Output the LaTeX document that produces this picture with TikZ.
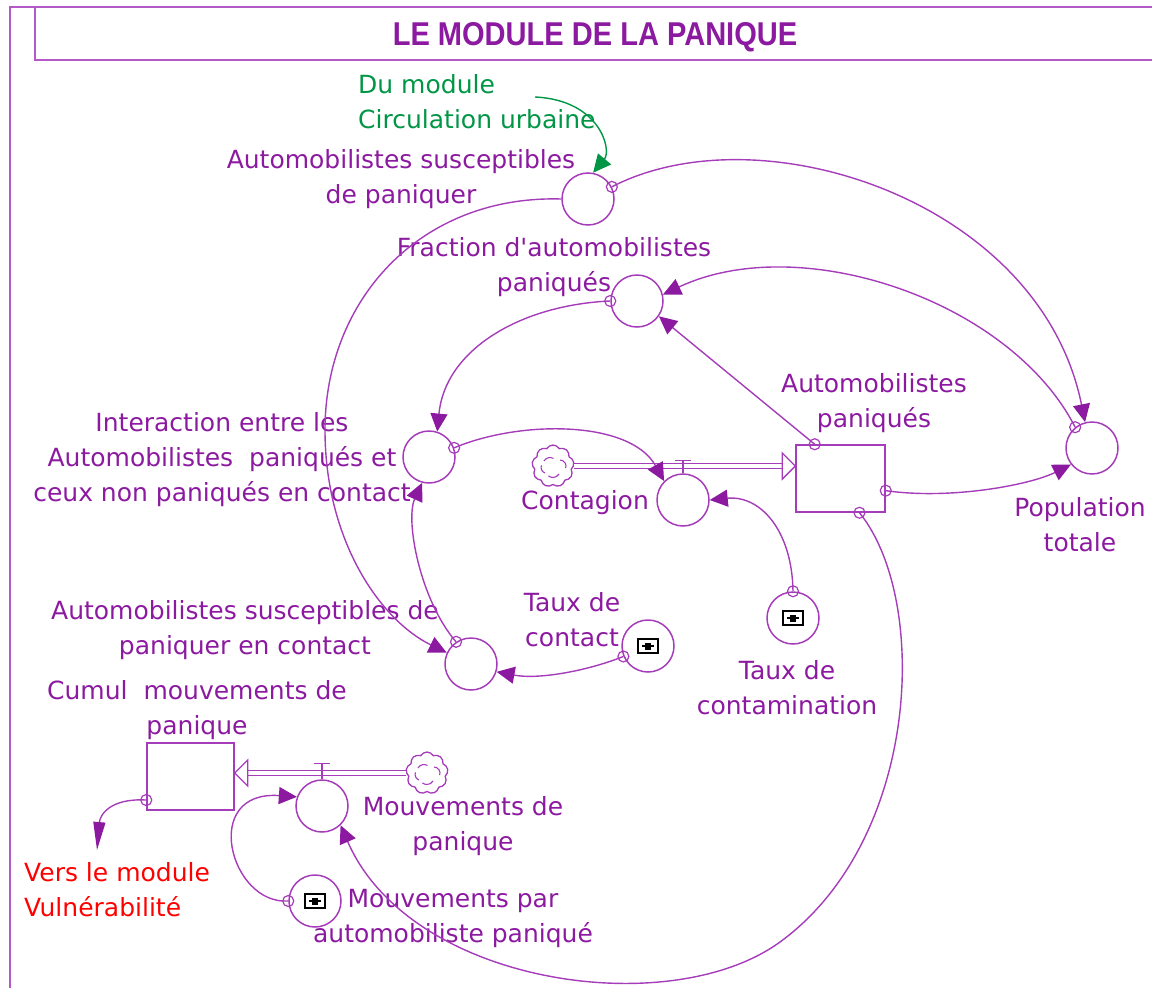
\documentclass[tikz,border=0pt]{standalone}
\usepackage{fontspec}
\usepackage{graphicx}
\setmainfont{DejaVu Sans}
\newfontfamily\labfont{DejaVu Sans}
\newfontfamily\titlefont{Liberation Sans}
\usetikzlibrary{arrows.meta,shapes.symbols,calc}
\definecolor{tpurple}{RGB}{140,26,160}
\definecolor{lpurple}{RGB}{165,60,185}
\definecolor{fpurple}{RGB}{180,90,200}
\definecolor{dgreen}{RGB}{0,150,70}
\tikzset{
  aux/.style={circle,draw=lpurple,line width=1.5pt,minimum size=52pt,inner sep=0pt},
  stock/.style={rectangle,draw=lpurple,line width=1.5pt,inner sep=0pt},
  lbl/.style={text=tpurple,font=\labfont\fontsize{25}{35}\selectfont,align=center,inner sep=0pt},
  link/.style={draw=lpurple,line width=1.4pt,-{Triangle[length=18pt,width=17pt,color=tpurple]}},
  glink/.style={draw=dgreen,line width=1.4pt,-{Triangle[length=18pt,width=17pt,color=dgreen]}},
  origin/.style={draw=lpurple,line width=1.2pt},
  pipe/.style={draw=lpurple,line width=1.4pt},
  cloudsh/.style={cloud,cloud puffs=9,cloud puff arc=120,aspect=1,draw=lpurple,line width=1.3pt,minimum width=42pt,minimum height=42pt,inner sep=0pt},
  convicon/.pic={
    \draw[black,line width=1.6pt,fill=white] (-10,-7) rectangle (10,7);
    \draw[black,line width=1.5pt] (-6,0) -- (6,0);
    \fill[black] (-3,-3.5) rectangle (3,3.5);
  },
  swirl/.pic={
    \draw[lpurple,line width=1.1pt] (-9,5) arc[start angle=150,end angle=60,radius=7];
    \draw[lpurple,line width=1.1pt] (7,6) arc[start angle=90,end angle=-20,radius=6];
    \draw[lpurple,line width=1.1pt] (6,-8) arc[start angle=-30,end angle=-130,radius=7];
    \draw[lpurple,line width=1.1pt] (-8,-7) arc[start angle=-110,end angle=-200,radius=6];
  }
}
\begin{document}
\begin{tikzpicture}[x=1pt,y=1pt]
\useasboundingbox (0,0) rectangle (1152,-988);
% frame
\draw[fpurple,line width=1.5pt] (10,-988) -- (10,-7) -- (1152,-7);
\draw[fpurple,line width=1.5pt] (1152,-60) -- (35,-60) -- (35,-7);
\node[text=tpurple,inner sep=0pt] (title) at (595,-37) {\titlefont\bfseries\fontsize{33}{33}\selectfont\scalebox{0.88}[1]{LE MODULE DE LA PANIQUE}};

% variables
\node[aux] (A) at (588,-199) {};
\node[aux] (F) at (637,-301) {};
\node[aux] (I) at (429,-457) {};
\node[aux] (C) at (683,-500) {};
\node[stock,minimum width=89pt,minimum height=67pt] (P) at (840.5,-478.5) {};
\node[aux] (T) at (1092,-448) {};
\node[aux] (TC) at (793,-618) {};
\node[aux] (TK) at (648,-646) {};
\node[aux] (S) at (471,-664) {};
\node[stock,minimum width=87pt,minimum height=67pt] (K) at (190.5,-776.5) {};
\node[aux] (M) at (322,-806) {};
\node[aux] (MP) at (315,-901) {};
\node[cloudsh] (CL1) at (553,-466) {};
\node[cloudsh] (CL2) at (427,-773) {};
\pic at (CL1.center) {swirl};
\pic at (CL2.center) {swirl};
\pic at (TC.center) {convicon};
\pic at (TK.center) {convicon};
\pic at (MP.center) {convicon};

% labels
\node[lbl] (lA) at (401,-179) {Automobilistes susceptibles\\de paniquer};
\node[lbl] (lF) at (554,-267) {Fraction d'automobilistes\\paniqués};
\node[lbl] (lI) at (222,-460) {Interaction entre les\\Automobilistes\ \ paniqués et\\ceux non paniqués en contact};
\node[lbl] (lP) at (874,-403) {Automobilistes\\paniqués};
\node[lbl] (lC) at (585,-503) {Contagion};
\node[lbl] (lT) at (1080,-525) {Population\\totale};
\node[lbl] (lTC) at (787,-688) {Taux de\\contamination};
\node[lbl] (lTK) at (572,-620) {Taux de\\contact};
\node[lbl] (lS) at (245,-630) {Automobilistes susceptibles de\\paniquer en contact};
\node[lbl] (lK) at (197,-710) {Cumul\ \ mouvements de\\panique};
\node[lbl] (lM) at (463,-826) {Mouvements de\\panique};
\node[lbl] (lMP) at (453,-918) {Mouvements par\\automobiliste paniqué};
\node[lbl,text=dgreen,align=left,anchor=west] (lG) at (358,-102) {Du module\\Circulation urbaine};
\node[lbl,text=red,align=left,anchor=west] (lR) at (24,-890) {Vers le module\\Vulnérabilité};

% flows
\coordinate (P1) at (P.west |- CL1.east);
\draw[pipe,double=white,double distance=4pt] (CL1.east) -- ($(P1)+(-12,0)$);
\draw[pipe,fill=white] (P1) -- ++(-13,13) -- ++(0,-26) -- cycle;
\draw[pipe] (C.north) -- ++(0,13) ++(-8,0) -- ++(16,0);
\coordinate (K1) at (K.east |- CL2.west);
\draw[pipe,double=white,double distance=4pt] (CL2.west) -- ($(K1)+(12,0)$);
\draw[pipe,fill=white] (K1) -- ++(13,13) -- ++(0,-26) -- cycle;
\draw[pipe] (M.north) -- ++(0,16) ++(-8,0) -- ++(16,0);

% connectors
\draw[link] (A.27) .. controls (760,-110) and (1040,-200) .. (T.105);
\draw[link] (T.129) .. controls (1010,-300) and (800,-230) .. (F.14);
\draw[link] (P.127) -- (F.-35);
\draw[link] (F.180) .. controls (520,-305) and (445,-350) .. (I.72);
\draw[link] (I.20) .. controls (520,-420) and (630,-420) .. (C.135);
\draw[link] (TC.90) .. controls (792,-530) and (760,-495) .. (C.0);
\draw[link] (TK.203) .. controls (590,-670) and (540,-680) .. (S.-17);
\draw[link] (S.124) .. controls (420,-600) and (405,-520) .. (I.-105);
\draw[link] (A.180) .. controls (420,-195) and (325,-300) .. (325,-430) .. controls (325,-540) and (380,-620) .. (S.155);
\draw[link] (P.-61) .. controls (930,-600) and (920,-840) .. (780,-942) .. controls (670,-1022) and (410,-985) .. (M.-46);
\draw[link] (P.-15) .. controls (950,-500) and (1030,-485) .. (T.218);
\draw[link] (MP.180) .. controls (230,-905) and (200,-790) .. (M.160);
\coordinate (r0) at (97,-850);
\draw[link,-{Triangle[length=28pt,width=12pt,color=tpurple]}] (K.-152) .. controls (110,-798) and (100,-815) .. (r0);
\coordinate (g0) at (535,-97);
\draw[glink] (g0) .. controls (600,-100) and (612,-150) .. (A.79);

% origin circles
\foreach \p in {A.27,T.129,P.127,F.180,I.20,TC.90,TK.203,S.124,P.-61,P.-15,MP.180,K.-152}
  \draw[origin] (\p) circle[radius=5.5pt];
\end{tikzpicture}
\end{document}
